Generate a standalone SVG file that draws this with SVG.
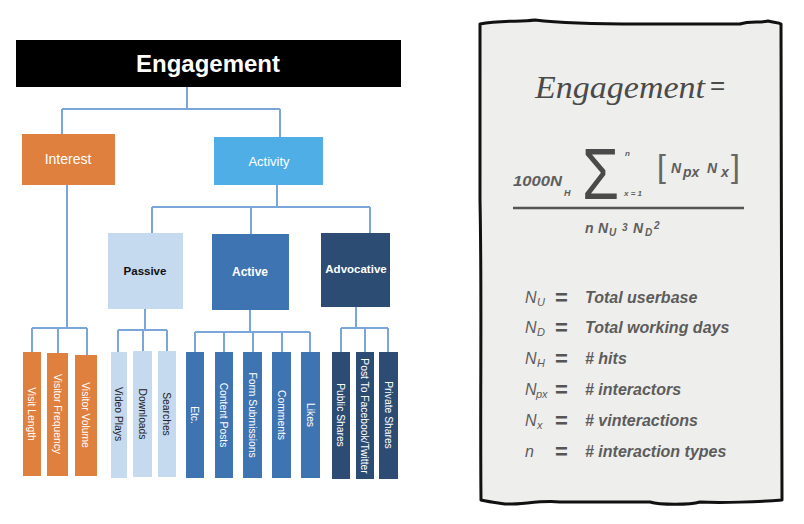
<svg xmlns="http://www.w3.org/2000/svg" width="804" height="524" viewBox="0 0 804 524">
<style>
.conn{fill:none;stroke:#7AA6DA;stroke-width:2}
.lbl{font-family:"Liberation Sans",Arial,sans-serif;text-anchor:middle}
.bar{font-family:"Liberation Sans",Arial,sans-serif;font-size:10.3px;text-anchor:middle;fill:#fff}
.org{fill:#E0803E}
.sky{fill:#4FAEE6}
.pas{fill:#C5D9EF}
.act{fill:#3F74B2}
.adv{fill:#2C4C74}
.hw{font-family:"Liberation Sans",Arial,sans-serif;font-style:italic;font-weight:bold;fill:#5e5e5e}
.lg{font-family:"Liberation Sans",Arial,sans-serif;font-style:italic;font-weight:bold;fill:#5c5c5c;font-size:16px}
.ln{font-family:"Liberation Sans",Arial,sans-serif;font-style:italic;fill:#5c5c5c;font-size:16px}
.ls{font-family:"Liberation Sans",Arial,sans-serif;font-style:italic;fill:#5c5c5c;font-size:11px}
.eq{font-family:"Liberation Sans",Arial,sans-serif;font-weight:bold;fill:#555;font-size:22px}
</style>
<rect width="804" height="524" fill="#fff"/>
<g id="connectors">
<path class="conn" d="M187,87V109M62,109H280M62,109V134M280,109V137"/>
<path class="conn" d="M67,185V328M32,328H87M32,328V352M58,328V353M87,328V355"/>
<path class="conn" d="M277,185V207M152,207H370M152,207V233M251,207V234M370,207V233"/>
<path class="conn" d="M145,309V330M118,330H167M118,330V352M143,330V351M167,330V351"/>
<path class="conn" d="M250,310V332M195,332H310M195,332V352M224,332V352M253,332V352M282,332V352M310,332V352"/>
<path class="conn" d="M356,307V328M341,328H388M341,328V352M365,328V352M388,328V352"/>
</g>
<g id="engagement"><rect x="16" y="40" width="385" height="47" fill="#000"/><text class="lbl" x="208" y="72" font-size="24" font-weight="bold" fill="#fff">Engagement</text></g>
<g id="interest"><rect class="org" x="22" y="134" width="93" height="51"/><text class="lbl" x="68" y="164" font-size="14" fill="#fff">Interest</text></g>
<g id="activity"><rect class="sky" x="214" y="137" width="109" height="48"/><text class="lbl" x="269" y="166" font-size="13" fill="#fff">Activity</text></g>
<g id="passive"><rect class="pas" x="108" y="233" width="75" height="76"/><text class="lbl" x="145" y="275" font-size="11.5" font-weight="bold" fill="#111">Passive</text></g>
<g id="active"><rect class="act" x="212" y="234" width="77" height="76"/><text class="lbl" x="250" y="276" font-size="12" font-weight="bold" fill="#fff">Active</text></g>
<g id="advocative"><rect class="adv" x="321" y="233" width="69" height="74"/><text class="lbl" x="356" y="273" font-size="11.5" font-weight="bold" fill="#fff">Advocative</text></g>
<g id="visit-length"><rect class="org" x="23" y="352" width="18" height="124"/><text class="bar" transform="translate(32,414) rotate(90)" dy="0.35em">Visit Length</text></g>
<g id="visitor-frequency"><rect class="org" x="47" y="353" width="21" height="123"/><text class="bar" transform="translate(57.5,414) rotate(90)" dy="0.35em">Visitor Frequency</text></g>
<g id="visitor-volume"><rect class="org" x="75" y="355" width="22" height="121"/><text class="bar" transform="translate(86,415) rotate(90)" dy="0.35em">Visitor Volume</text></g>
<g id="video-plays"><rect class="pas" x="111" y="352" width="16" height="126"/><text class="bar" style="fill:#222" transform="translate(119,414) rotate(90)" dy="0.35em">Video Plays</text></g>
<g id="downloads"><rect class="pas" x="133" y="351" width="19" height="126"/><text class="bar" style="fill:#222" transform="translate(142.5,414) rotate(90)" dy="0.35em">Downloads</text></g>
<g id="searches"><rect class="pas" x="158" y="351" width="18" height="126"/><text class="bar" style="fill:#222" transform="translate(167,414) rotate(90)" dy="0.35em">Searches</text></g>
<g id="etc"><rect class="act" x="186" y="352" width="18" height="126"/><text class="bar" transform="translate(195,415) rotate(90)" dy="0.35em">Etc.</text></g>
<g id="content-posts"><rect class="act" x="215" y="352" width="18" height="126"/><text class="bar" transform="translate(224,415) rotate(90)" dy="0.35em">Content Posts</text></g>
<g id="form-submissions"><rect class="act" x="243" y="352" width="19" height="126"/><text class="bar" transform="translate(252.5,415) rotate(90)" dy="0.35em">Form Submissions</text></g>
<g id="comments"><rect class="act" x="272" y="352" width="19" height="126"/><text class="bar" transform="translate(281.5,415) rotate(90)" dy="0.35em">Comments</text></g>
<g id="likes"><rect class="act" x="301" y="352" width="19" height="126"/><text class="bar" transform="translate(310.5,415) rotate(90)" dy="0.35em">Likes</text></g>
<g id="public-shares"><rect class="adv" x="332" y="352" width="18" height="127"/><text class="bar" transform="translate(341,415) rotate(90)" dy="0.35em">Public Shares</text></g>
<g id="post-facebook"><rect class="adv" x="356" y="352" width="18" height="127"/><text class="bar" transform="translate(365,416) rotate(90)" dy="0.35em" font-size="9.6">Post To Facebook/Twitter</text></g>
<g id="private-shares"><rect class="adv" x="379" y="352" width="19" height="127"/><text class="bar" transform="translate(388.5,415) rotate(90)" dy="0.35em">Private Shares</text></g>
<g id="formula-panel">
<path d="M480,24 C500,20 520,22 535,20 C560,23 600,24 640,24 L740,24 C750,21 760,23 768,21 C775,23 778,22 781,24 L782,500 C760,502 720,503 700,502 C690,505 660,505 650,502 L560,502 C540,500 520,505 505,504 C495,502 488,502 481,500 C480,400 482,300 480,200 Z" fill="#EEEEEC" stroke="#111" stroke-width="3" stroke-linejoin="round"/>
<text x="535" y="98" font-family="'Liberation Serif',serif" font-style="italic" font-size="32" fill="#4a4a4a" textLength="170" lengthAdjust="spacingAndGlyphs">Engagement</text>
<text x="710" y="94" font-family="'Liberation Sans',sans-serif" font-size="26" fill="#4a4a4a">=</text>
<text class="hw" x="513" y="186" font-size="14" font-style="normal" textLength="49" lengthAdjust="spacingAndGlyphs">1000N</text>
<text class="hw" x="564" y="196" font-size="9">H</text>
<text transform="translate(582,199) scale(1.2,1.45)" font-family="'Liberation Sans',sans-serif" font-size="50" fill="#4a4a4a">Σ</text>
<text class="hw" x="625" y="156" font-size="8" font-weight="normal">n</text>
<text class="hw" x="624" y="196" font-size="8" font-weight="normal">x = 1</text>
<text x="657" y="177" font-family="'Liberation Sans',sans-serif" font-size="32" fill="#666">[</text>
<text class="hw" x="671" y="173" font-size="14">N</text>
<text class="hw" x="683" y="177" font-size="14">px</text>
<text class="hw" x="707" y="173" font-size="14">N</text>
<text class="hw" x="721" y="177" font-size="14">x</text>
<text x="731" y="177" font-family="'Liberation Sans',sans-serif" font-size="32" fill="#666">]</text>
<line x1="513" y1="208" x2="744" y2="208" stroke="#555" stroke-width="2.5"/>
<text class="hw" x="585" y="233" font-size="14">n</text>
<text class="hw" x="598" y="233" font-size="14">N</text>
<text class="hw" x="609" y="236" font-size="10" font-weight="normal">U</text>
<text class="hw" x="622" y="231" font-size="10" font-weight="normal">3</text>
<text class="hw" x="633" y="233" font-size="14">N</text>
<text class="hw" x="645" y="236" font-size="10" font-weight="normal">D</text>
<text class="hw" x="654" y="229" font-size="10" font-weight="normal">2</text>
</g>
<g id="legend">
<text class="ln" x="525" y="303">N</text><text class="ls" x="537" y="306">U</text><text class="eq" x="555" y="305">=</text><text class="lg" x="585" y="303">Total userbase</text>
<text class="ln" x="525" y="333">N</text><text class="ls" x="537" y="336">D</text><text class="eq" x="555" y="335">=</text><text class="lg" x="585" y="333">Total working days</text>
<text class="ln" x="525" y="364">N</text><text class="ls" x="537" y="367">H</text><text class="eq" x="555" y="366">=</text><text class="lg" x="585" y="364"># hits</text>
<text class="ln" x="525" y="395">N</text><text class="ls" x="536" y="398">px</text><text class="eq" x="555" y="397">=</text><text class="lg" x="585" y="395"># interactors</text>
<text class="ln" x="525" y="426">N</text><text class="ls" x="537" y="429">x</text><text class="eq" x="555" y="428">=</text><text class="lg" x="585" y="426"># vinteractions</text>
<text class="ln" x="525" y="457">n</text><text class="eq" x="555" y="459">=</text><text class="lg" x="585" y="457"># interaction types</text>
</g>
</svg>
